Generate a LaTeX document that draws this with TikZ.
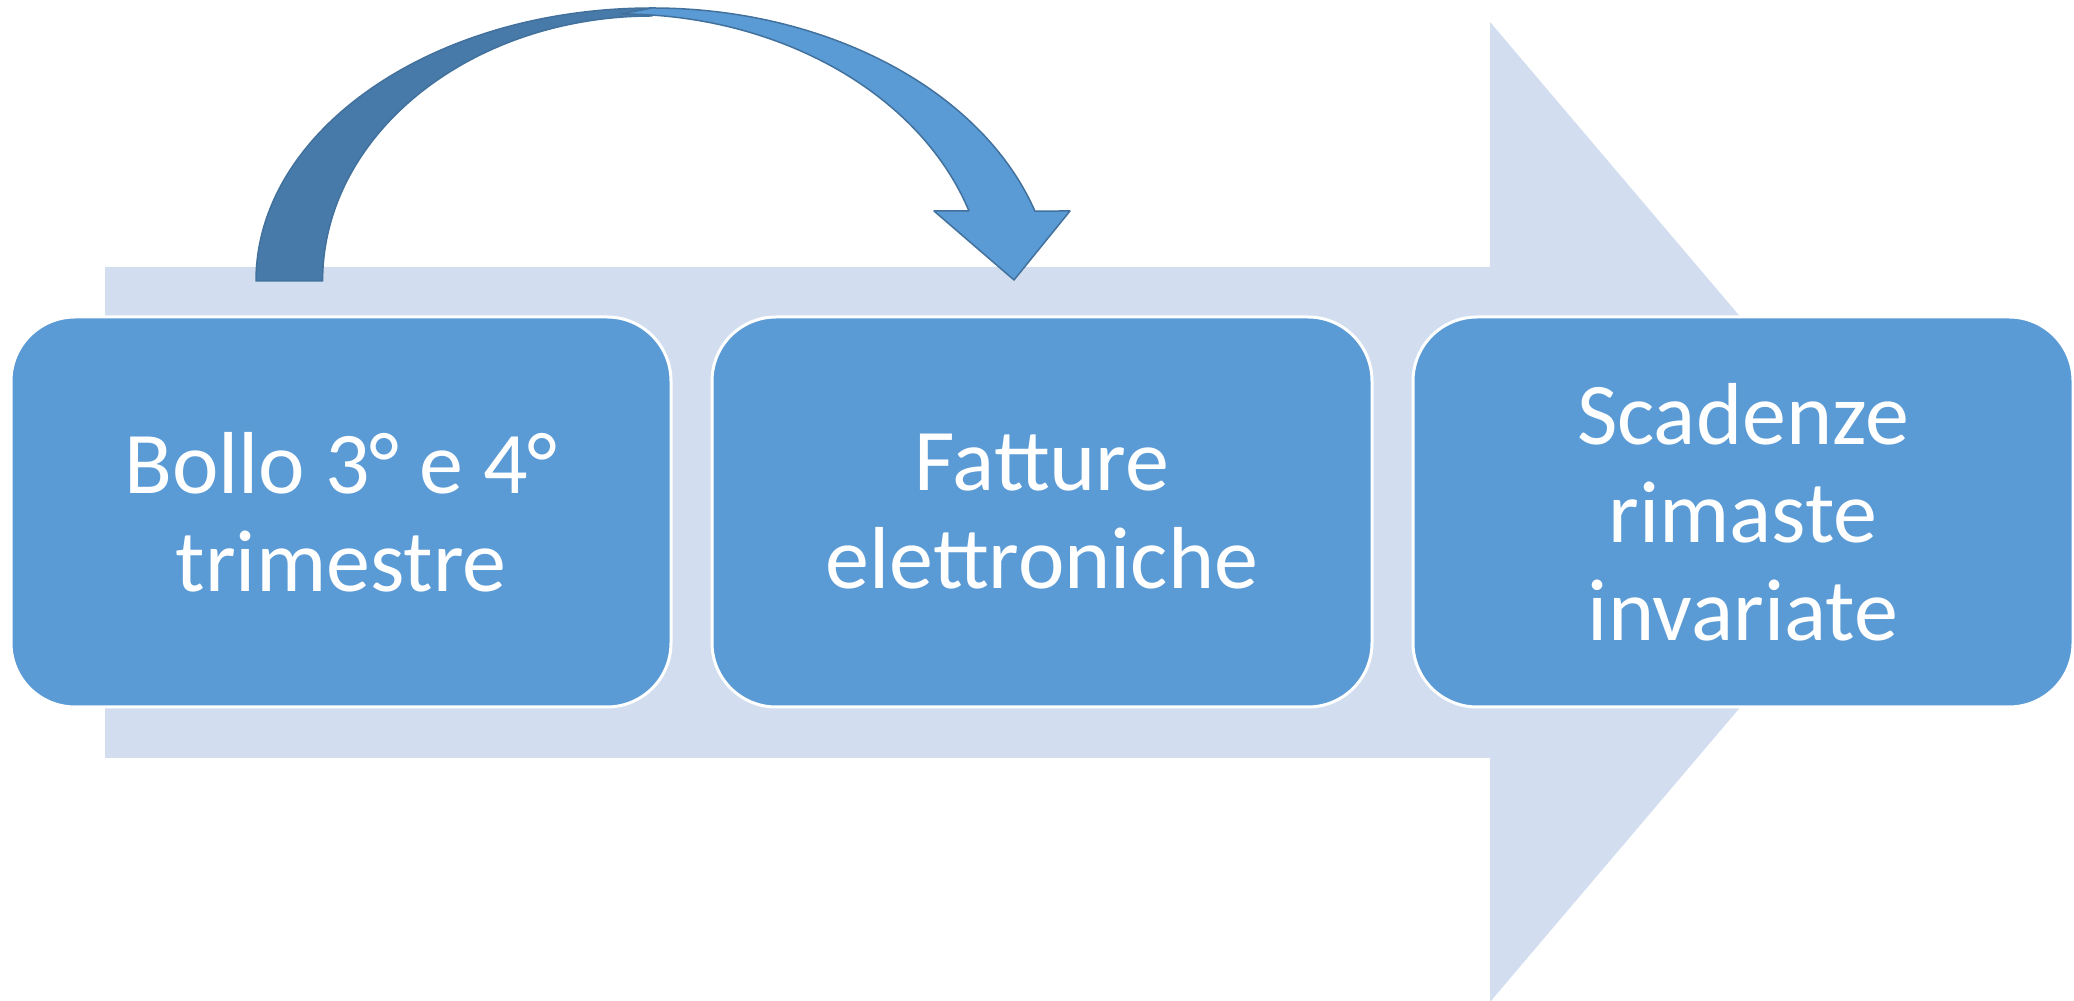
\documentclass[tikz,border=0pt]{standalone}
\usepackage{fontspec}
\setmainfont{Carlito}
\definecolor{boxblue}{RGB}{91,155,213}
\definecolor{bgarrow}{RGB}{210,222,239}
\definecolor{darkarc}{RGB}{71,122,168}
\definecolor{arcline}{RGB}{65,113,156}
\begin{document}
\begin{tikzpicture}[x=0.5pt,y=0.5pt,
  stepbox/.style={draw=white, line width=1.5pt, fill=boxblue, rounded corners=32pt,
    minimum width=330pt, minimum height=195pt, text=white, align=center,
    font=\fontsize{44}{49}\selectfont, inner sep=0pt},
  bigarrow/.style={fill=bgarrow, draw=none},
  arcback/.style={fill=darkarc, draw=arcline, line width=0.75pt, line join=round},
  arcfront/.style={fill=boxblue, draw=arcline, line width=0.75pt, line join=round}]
\useasboundingbox (0,0) rectangle (2074,1001);
\clip (0,0) rectangle (2074,1001);
% background block arrow
\fill[bigarrow] (105,734) -- (1490,734) -- (1490,979) -- (1906,489) -- (1490,-1)
  -- (1490,243) -- (105,243) -- cycle;
% curved arrow: back (dark) part
\draw[arcback] (256,720) arc[start angle=180, end angle=90, x radius=198.1pt, y radius=136.5pt]
  -- (652.2,985) arc[start angle=90, end angle=180, x radius=164.8pt, y radius=132.5pt] -- cycle;
% curved arrow: front (light) part with head
\draw[arcfront] (652.2,993) arc[start angle=90, end angle=17.74, x radius=200.9pt, y radius=146pt]
  -- (1070,790) -- (1014,721) -- (934,790) -- (969,790)
  arc[start angle=18.13, end angle=90, x radius=183.4pt, y radius=143pt] -- cycle;
% boxes
\node[stepbox] (b1) at (341,489) {Bollo 3° e 4°\\trimestre};
\node[stepbox] (b2) at (1042,489) {Fatture\\elettroniche};
\node[stepbox] (b3) at (1743,489) {Scadenze\\rimaste\\invariate};
\end{tikzpicture}
\end{document}
